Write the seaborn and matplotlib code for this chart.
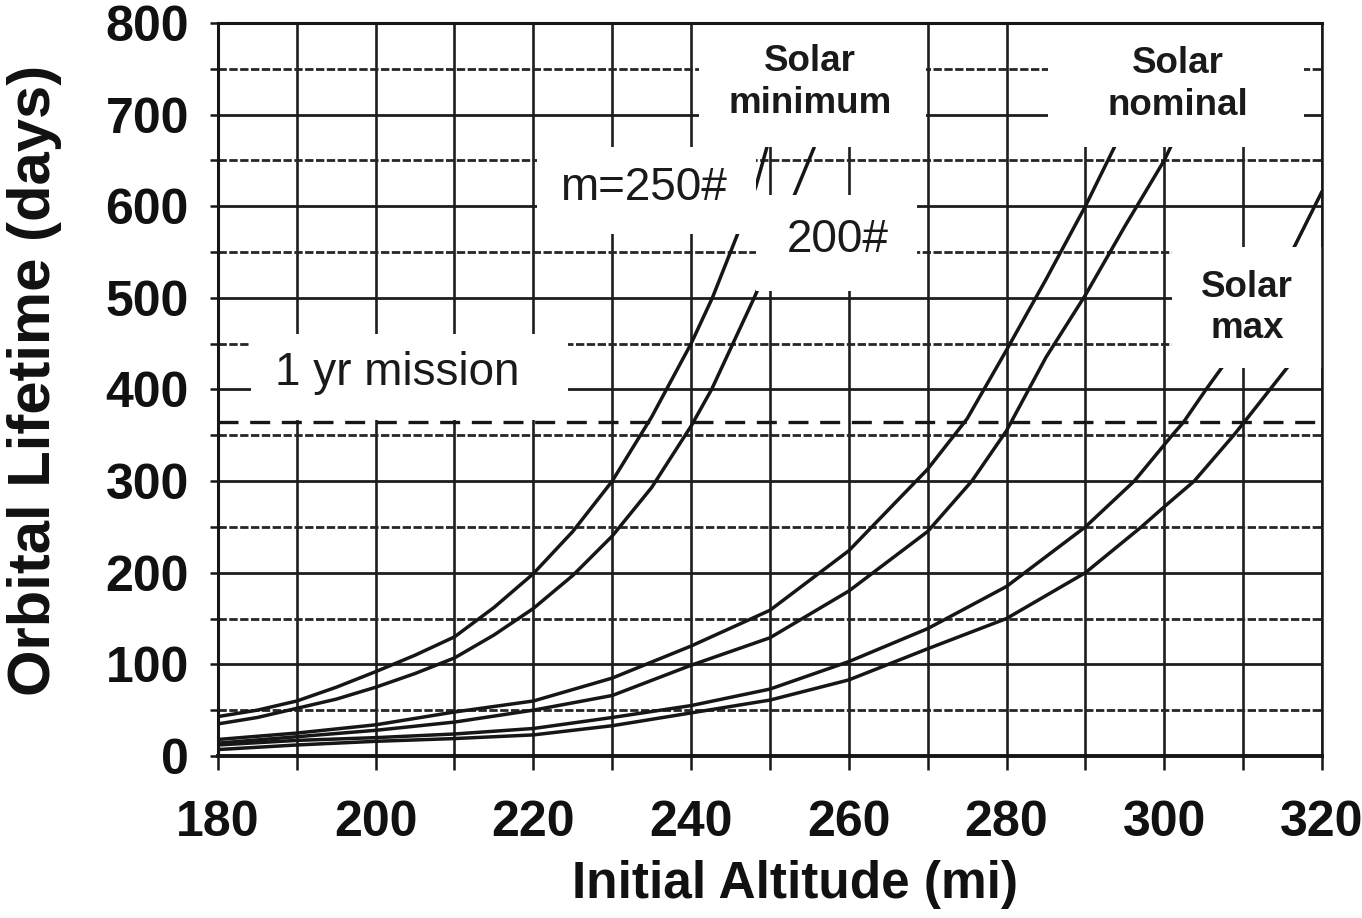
import matplotlib
matplotlib.use("Agg")
import matplotlib.pyplot as plt
from matplotlib.patches import Rectangle
import seaborn as sns
import pandas as pd

# Orbital lifetime vs initial altitude
# solar minimum
min_250_alt = [180, 185, 190, 195, 200, 205, 210, 215, 220, 225, 230, 235, 240, 242.7, 245, 246.1, 248.2, 249.8]
min_250_days = [43, 50, 60, 75, 92, 110, 130, 162, 199, 245, 300, 370, 450, 500, 550, 574, 621, 670]
min_200_alt = [180, 185, 190, 195, 200, 205, 210, 215, 220, 225, 230, 235, 240, 242.6, 245.3, 248, 250, 253, 255.6]
min_200_days = [35, 42, 52, 62, 75, 90, 107, 132, 161, 197, 240, 293, 360, 400, 450, 500, 540, 610, 664]
# solar nominal
nom_250_alt = [180, 190, 200, 210, 220, 230, 240, 250, 260, 270, 275, 280, 285, 290, 294]
nom_250_days = [18, 25, 34, 48, 60, 85, 120, 159, 224, 313, 368, 443, 520, 600, 670]
nom_200_alt = [180, 190, 200, 210, 220, 230, 240, 250, 260, 270, 275.6, 280, 285, 290, 295, 300, 301]
nom_200_days = [14, 21, 28, 37, 50, 66, 99, 129, 180, 245, 300, 355, 435, 503, 578, 650, 668]
# solar max
max_250_alt = [180, 190, 200, 210, 220, 230, 240, 250, 260, 270, 280, 290, 296.2, 301, 302.5, 305.3, 307.4, 316.4, 320]
max_250_days = [12, 17, 20, 24, 30, 42, 55, 73, 103, 139, 185, 250, 300, 350, 365, 400, 425, 554, 616]
max_200_alt = [180, 190, 200, 210, 220, 230, 240, 250, 260, 270, 280, 290, 297.1, 300, 303.8, 308.8, 310.2, 315.7]
max_200_days = [7, 12, 16, 19, 23, 33, 47, 61, 83, 117, 150, 200, 250, 272, 300, 350, 365, 425]

mission_days = 365

x_ticks = [180, 200, 220, 240, 260, 280, 300, 320]
y_ticks = [0, 100, 200, 300, 400, 500, 600, 700, 800]

curves = {
    "min_250": (min_250_alt, min_250_days),
    "min_200": (min_200_alt, min_200_days),
    "nom_250": (nom_250_alt, nom_250_days),
    "nom_200": (nom_200_alt, nom_200_days),
    "max_250": (max_250_alt, max_250_days),
    "max_200": (max_200_alt, max_200_days),
}
rows = []
for name, (alt, days) in curves.items():
    for a, d in zip(alt, days):
        rows.append({"curve": name, "altitude": a, "lifetime": d})
df = pd.DataFrame(rows)

sns.set_style("white")
plt.rcParams['font.family'] = ['Liberation Sans', 'DejaVu Sans']

ink = "#161616"
fig = plt.figure(figsize=(13.62, 9.18), dpi=100)
ax = fig.add_axes([0.160, 0.1765, 0.8106, 0.7985])

sns.lineplot(data=df, x="altitude", y="lifetime", units="curve", estimator=None,
             sort=False, color=ink, lw=2.5, ax=ax, zorder=2)
ax.axhline(mission_days, color=ink, lw=2.4, ls=(0, (6, 3.5)), zorder=2)

ax.set_xlim(180, 320)
ax.set_ylim(0, 800)
ax.set_xticks(x_ticks)
ax.set_xticks(range(180, 321, 10), minor=True)
ax.set_yticks(y_ticks)
ax.set_yticks(range(0, 801, 50), minor=True)
ax.set_xticklabels([str(v) for v in x_ticks])
ax.set_yticklabels([str(v) for v in y_ticks])

# grid: solid verticals, solid 100s, dotted 50s
ax.set_axisbelow(True)
ax.xaxis.grid(True, which="both", color="#1e1e1e", lw=1.9)
ax.yaxis.grid(True, which="major", color="#1e1e1e", lw=2.0)
ax.yaxis.grid(True, which="minor", color="#262626", lw=2.0, ls=(0, (3, 0.9)))

ax.tick_params(axis="x", which="both", direction="out", length=10, width=1.8,
               color=ink, bottom=True, pad=22)
ax.tick_params(axis="y", which="both", direction="out", length=6, width=1.8,
               color=ink, left=True, pad=15)
for lab in ax.get_xticklabels() + ax.get_yticklabels():
    lab.set_fontsize(36)
    lab.set_fontweight("bold")
    lab.set_color("#111111")

for side, w in [("left", 2.2), ("bottom", 2.8), ("top", 2.2), ("right", 1.8)]:
    ax.spines[side].set_visible(True)
    ax.spines[side].set_linewidth(w)
    ax.spines[side].set_color(ink)
    ax.spines[side].set_zorder(5)

ax.set_xlabel("Initial Altitude (mi)", fontsize=37, fontweight="bold", color="#111111")
ax.set_ylabel("Orbital Lifetime (days)", fontsize=43, fontweight="bold", color="#111111")
ax.xaxis.label.set_va("center")
ax.yaxis.label.set_va("center")
ax.xaxis.set_label_coords(0.5226, -0.176)
ax.yaxis.set_label_coords(-0.166, 0.513)

# blank areas cut out of the grid around the labels
blanks = [
    (184.2, 367, 40.2, 93),    # 1 yr mission
    (220.5, 570, 27.7, 95),    # m=250#
    (241.0, 665, 28.8, 135),   # Solar minimum
    (248.2, 508, 20.4, 104),   # 200#
    (285.2, 665, 32.5, 135),   # Solar nominal
    (301.0, 423, 19.0, 133),   # Solar max
]
for x0, y0, w, h in blanks:
    ax.add_patch(Rectangle((x0, y0), w, h, facecolor="white", edgecolor="none", zorder=3))

txt = dict(color="#1a1a1a", zorder=4, ha="center", va="center")
ax.text(202.7, 418, "1 yr mission", fontsize=33, **txt)
ax.text(234.0, 620, "m=250#", fontsize=33, **txt)
ax.text(258.6, 563, "200#", fontsize=33, **txt)
ax.text(255.1, 735, "Solar\nminimum", fontsize=26.5, fontweight="bold", linespacing=1.25, **txt)
ax.text(301.7, 733, "Solar\nnominal", fontsize=26.5, fontweight="bold", linespacing=1.25, **txt)
ax.text(310.5, 489, "Solar\nmax", fontsize=26.5, fontweight="bold", linespacing=1.25, **txt)

fig.savefig("out.png", dpi=100)
